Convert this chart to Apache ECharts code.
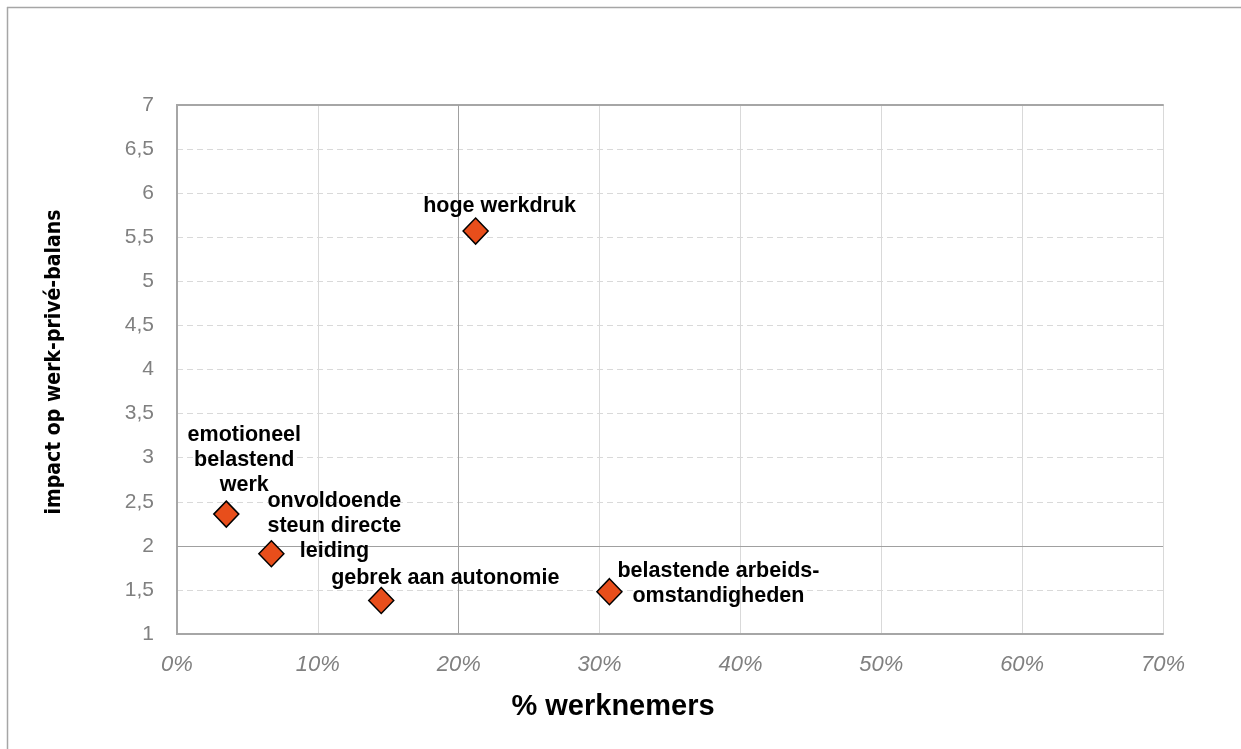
<!DOCTYPE html>
<html>
<head>
<meta charset="utf-8">
<script src="https://cdn.jsdelivr.net/npm/echarts@6/dist/echarts.min.js"></script>
<style>
html,body{margin:0;padding:0;background:#fff;}
#chart{width:1241px;height:749px;}
</style>
</head>
<body>
<div id="chart"></div>
<script>
// ---- data ----
const categories = [
  'hoge werkdruk',
  'emotioneel\nbelastend\nwerk',
  'onvoldoende\nsteun directe\nleiding',
  'gebrek aan autonomie',
  'belastende arbeids-\nomstandigheden'
];
const pctWorkers = [21.2, 3.5, 6.7, 14.5, 30.7];   // % werknemers
const impactScores = [5.57, 2.36, 1.91, 1.38, 1.48]; // impact op werk-privé-balans
const xTicks = { min: 0, max: 70, step: 10 };
const yTicks = { min: 1, max: 7, step: 0.5 };
const quadrantX = 20;
const quadrantY = 2;

// ---- label layout (styling, not data) ----
const labelOffsets = [[24, -25], [18, -54], [63, -28], [64, -22], [109, -8]];

const chart = echarts.init(document.getElementById('chart'), null, { renderer: 'canvas' });

const points = categories.map((c, i) => ({ name: c, value: [pctWorkers[i], impactScores[i]] }));

const frameLine = { show: true, lineStyle: { color: '#a6a6a6', width: 2 } };
const font = 'Liberation Sans, Arial';

const option = {
  backgroundColor: '#ffffff',
  animation: false,
  grid: { left: 177, right: 78, top: 105, bottom: 115 },
  xAxis: [{
    type: 'value',
    min: xTicks.min, max: xTicks.max, interval: xTicks.step,
    name: '% werknemers',
    nameLocation: 'middle',
    nameGap: 58,
    nameTextStyle: { fontFamily: font, fontWeight: 'bold', fontSize: 29, color: '#000', padding: [0, 114, 0, 0] },
    axisLine: frameLine,
    axisTick: { show: false },
    axisLabel: {
      formatter: v => v + '%',
      fontFamily: font, fontStyle: 'italic', fontSize: 22, color: '#808080', margin: 20
    },
    splitLine: { show: true, lineStyle: { color: '#d9d9d9', width: 1, type: 'solid' } }
  }, {
    type: 'value', position: 'top',
    min: xTicks.min, max: xTicks.max, interval: xTicks.step,
    axisLine: frameLine, axisTick: { show: false }, axisLabel: { show: false }, splitLine: { show: false }
  }],
  yAxis: [{
    type: 'value',
    min: yTicks.min, max: yTicks.max, interval: yTicks.step,
    name: 'impact op werk-privé-balans',
    nameLocation: 'middle',
    nameGap: 112,
    nameRotate: 90,
    nameTextStyle: { fontFamily: 'DejaVu Sans Condensed', fontWeight: 'bold', fontSize: 21, color: '#000', padding: [0, 0, 0, 15] },
    axisLine: frameLine,
    axisTick: { show: false },
    axisLabel: {
      formatter: v => String(v).replace('.', ','),
      fontFamily: font, fontSize: 21, color: '#808080', margin: 23
    },
    splitLine: { show: true, lineStyle: { color: '#d9d9d9', width: 1, type: [6, 4] } }
  }, {
    type: 'value', position: 'right',
    min: yTicks.min, max: yTicks.max, interval: yTicks.step,
    axisLine: frameLine, axisTick: { show: false }, axisLabel: { show: false }, splitLine: { show: false }
  }],
  series: [{
    type: 'scatter',
    symbol: 'diamond',
    symbolSize: [25, 26],
    itemStyle: { color: '#E84E1B', borderColor: '#000', borderWidth: 1.5, opacity: 1 },
    label: {
      show: true,
      position: 'inside',
      formatter: p => p.name,
      align: 'center',
      verticalAlign: 'middle',
      fontFamily: font,
      fontWeight: 'bold',
      fontSize: 21.5,
      lineHeight: 25,
      color: '#000',
      textBorderWidth: 0
    },
    labelLayout: p => ({ dx: labelOffsets[p.dataIndex][0], dy: labelOffsets[p.dataIndex][1], hideOverlap: false }),
    data: points,
    markLine: {
      silent: true,
      symbol: 'none',
      label: { show: false },
      lineStyle: { color: '#a0a0a0', width: 1, type: 'solid' },
      data: [{ xAxis: quadrantX }, { yAxis: quadrantY }]
    },
    z: 5
  }],
  graphic: [
    { type: 'line', shape: { x1: 7, y1: 7.5, x2: 1241, y2: 7.5 }, style: { stroke: '#a6a6a6', lineWidth: 1.5 }, silent: true },
    { type: 'line', shape: { x1: 7.5, y1: 7, x2: 7.5, y2: 749 }, style: { stroke: '#a6a6a6', lineWidth: 1.5 }, silent: true }
  ]
};
chart.setOption(option);
</script>
</body>
</html>
